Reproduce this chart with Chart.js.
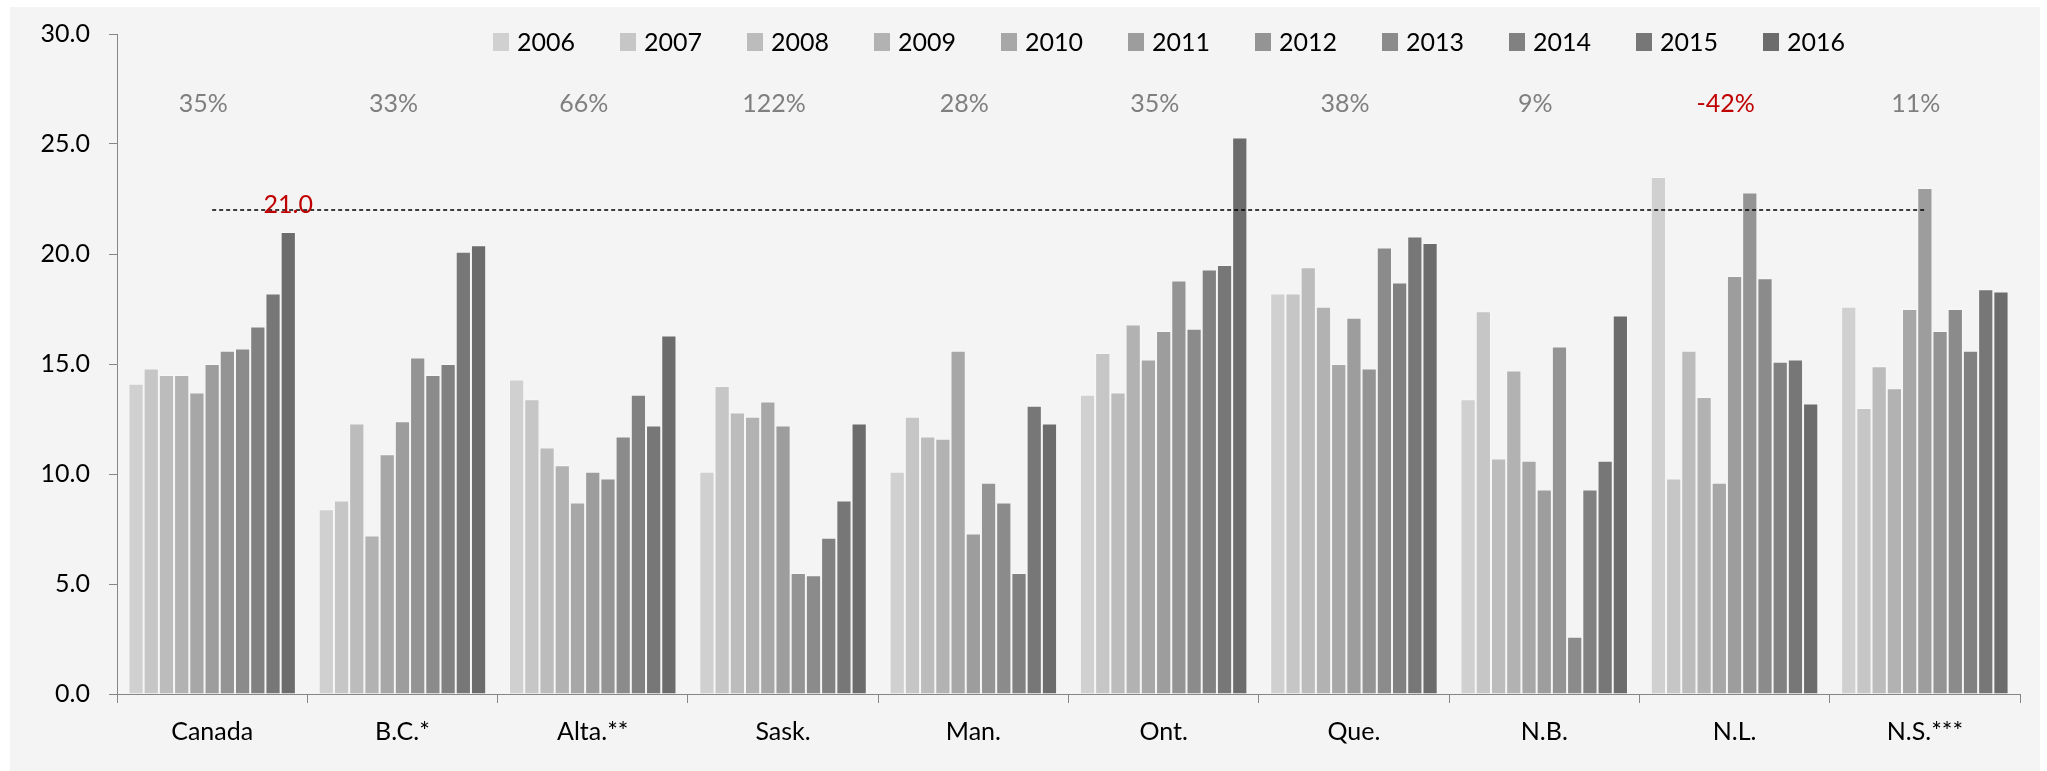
<!DOCTYPE html>
<html>
<head>
<meta charset="utf-8">
<script src="https://cdn.jsdelivr.net/npm/chart.js@4"></script>
<style>
html, body { margin: 0; padding: 0; background: #fff; }
#wrap { position: relative; width: 2047px; height: 771px; }
</style>
</head>
<body>
<div id="wrap"><canvas id="chart" width="2047" height="771"></canvas></div>
<script>
// categories and series
var provinces = ['Canada', 'B.C.*', 'Alta.**', 'Sask.', 'Man.', 'Ont.', 'Que.', 'N.B.', 'N.L.', 'N.S.***'];
var years = ['2006', '2007', '2008', '2009', '2010', '2011', '2012', '2013', '2014', '2015', '2016'];

var v2006 = [14.1, 8.4, 14.3, 10.1, 10.1, 13.6, 18.2, 13.4, 23.5, 17.6];
var v2007 = [14.8, 8.8, 13.4, 14.0, 12.6, 15.5, 18.2, 17.4, 9.8, 13.0];
var v2008 = [14.5, 12.3, 11.2, 12.8, 11.7, 13.7, 19.4, 10.7, 15.6, 14.9];
var v2009 = [14.5, 7.2, 10.4, 12.6, 11.6, 16.8, 17.6, 14.7, 13.5, 13.9];
var v2010 = [13.7, 10.9, 8.7, 13.3, 15.6, 15.2, 15.0, 10.6, 9.6, 17.5];
var v2011 = [15.0, 12.4, 10.1, 12.2, 7.3, 16.5, 17.1, 9.3, 19.0, 23.0];
var v2012 = [15.6, 15.3, 9.8, 5.5, 9.6, 18.8, 14.8, 15.8, 22.8, 16.5];
var v2013 = [15.7, 14.5, 11.7, 5.4, 8.7, 16.6, 20.3, 2.6, 18.9, 17.5];
var v2014 = [16.7, 15.0, 13.6, 7.1, 5.5, 19.3, 18.7, 9.3, 15.1, 15.6];
var v2015 = [18.2, 20.1, 12.2, 8.8, 13.1, 19.5, 20.8, 10.6, 15.2, 18.4];
var v2016 = [21.0, 20.4, 16.3, 12.3, 12.3, 25.3, 20.5, 17.2, 13.2, 18.3];

// change 2006-2016 shown above each group
var changeLabels = ['35%', '33%', '66%', '122%', '28%', '35%', '38%', '9%', '-42%', '11%'];
// dashed reference line
var referenceLine = [22, 22, 22, 22, 22, 22, 22, 22, 22, 22];
var yTicks = [0, 5, 10, 15, 20, 25, 30];

var seriesValues = [v2006, v2007, v2008, v2009, v2010, v2011, v2012, v2013, v2014, v2015, v2016];
var barColors = ['#d0d0d0', '#c6c6c6', '#bcbcbc', '#b2b2b2', '#a7a7a7', '#9d9d9d',
                 '#949494', '#8b8b8b', '#818181', '#777777', '#6c6c6c'];

var FONT = 'Lato';

var datasets = [{
	type: 'line',
	label: 'ref',
	data: referenceLine,
	borderColor: '#000',
	borderWidth: 1.5,
	borderDash: [4, 3],
	pointRadius: 0,
	fill: false,
	order: 0
}];
for (var i = 0; i < years.length; i++) {
	datasets.push({
		type: 'bar',
		label: years[i],
		data: seriesValues[i],
		backgroundColor: barColors[i],
		borderColor: 'rgba(255,255,255,0.3)',
		borderWidth: 1,
		borderSkipped: 'bottom',
		categoryPercentage: 0.88,
		barPercentage: 1.0,
		order: 1
	});
}

var panelPlugin = {
	id: 'panel',
	beforeDraw: function(chart) {
		var ctx = chart.ctx;
		ctx.save();
		ctx.fillStyle = '#f4f4f4';
		ctx.fillRect(10, 7, 2030, 764);
		ctx.restore();
	}
};

var labelPlugin = {
	id: 'labels',
	afterDatasetsDraw: function(chart) {
		var ctx = chart.ctx;
		var xs = chart.scales.x, ys = chart.scales.y;
		ctx.save();
		ctx.font = '25px ' + FONT;
		ctx.textAlign = 'center';
		ctx.textBaseline = 'middle';

		// percent change labels
		for (var i = 0; i < changeLabels.length; i++) {
			ctx.fillStyle = changeLabels[i].charAt(0) == '-' ? '#c00000' : '#7f7f7f';
			ctx.fillText(changeLabels[i], xs.getPixelForValue(i) - 9, ys.getPixelForValue(26.8));
		}

		// value label of Canada 2016
		var meta = chart.getDatasetMeta(datasets.length - 1);
		var bar = meta.data[0];
		ctx.fillStyle = '#c00000';
		ctx.fillText(v2016[0].toFixed(1), bar.x, bar.y - 27);

		// legend
		ctx.textAlign = 'left';
		for (var j = 0; j < years.length; j++) {
			var lx = 493 + j * 127;
			ctx.fillStyle = barColors[j];
			ctx.fillRect(lx, 33, 16, 18);
			ctx.fillStyle = '#000';
			ctx.fillText(years[j], lx + 24, 43);
		}
		ctx.restore();
	}
};

var chart = new Chart(document.getElementById('chart'), {
	type: 'bar',
	data: { labels: provinces, datasets: datasets },
	plugins: [panelPlugin, labelPlugin],
	options: {
		responsive: false,
		devicePixelRatio: 1,
		animation: false,
		layout: { padding: { left: 0, top: 31, right: 27, bottom: 0 } },
		plugins: {
			legend: { display: false },
			tooltip: { enabled: false }
		},
		scales: {
			x: {
				ticks: { color: '#000', font: { family: FONT, size: 25 }, padding: 14, maxRotation: 0, autoSkip: false },
				grid: { drawOnChartArea: false, tickLength: 9, color: '#868686', offset: true },
				border: { color: '#868686' },
				afterFit: function(s) { s.height = 77; }
			},
			y: {
				min: 0,
				max: 30,
				afterBuildTicks: function(s) { s.ticks = yTicks.map(function(v) { return { value: v }; }); },
				ticks: {
					color: '#000',
					font: { family: FONT, size: 25 },
					padding: 19,
					callback: function(v) { return Number(v).toFixed(1); }
				},
				grid: { drawOnChartArea: false, tickLength: 8, color: '#868686' },
				border: { color: '#868686' },
				afterFit: function(s) { s.width = 117; }
			}
		}
	}
});
</script>
</body>
</html>
